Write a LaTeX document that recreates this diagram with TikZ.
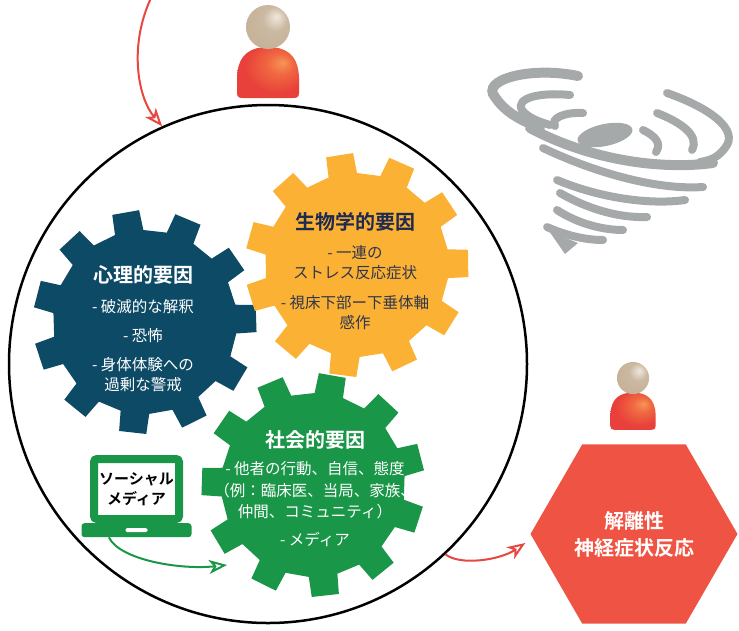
\documentclass[tikz,border=0pt]{standalone}
\usepackage{fontspec}
\setmainfont{Noto Sans CJK JP}[BoldFont={Noto Sans CJK JP Bold}]
\usetikzlibrary{arrows.meta,calc,positioning,shapes.geometric}
\definecolor{dsblue}{RGB}{13,74,102}
\definecolor{dsorange}{RGB}{251,177,52}
\definecolor{dsgreen}{RGB}{26,150,72}
\definecolor{dsred}{RGB}{239,83,67}
\definecolor{dsarrow}{RGB}{232,71,63}
\definecolor{dsnavy}{RGB}{30,42,80}
\definecolor{dsslate}{RGB}{48,54,76}
\definecolor{dsgray}{RGB}{166,169,170}
\definecolor{headlight}{RGB}{240,232,222}
\definecolor{headtan}{RGB}{196,176,150}
\definecolor{headdark}{RGB}{150,126,100}
\definecolor{bodylight}{RGB}{246,150,85}
\definecolor{bodymid}{RGB}{240,105,65}
\definecolor{bodyred}{RGB}{232,64,58}
\pgfdeclareradialshading{bodyglow}{\pgfpoint{12bp}{10bp}}{color(0bp)=(bodylight); color(10bp)=(bodymid); color(26bp)=(bodyred); color(60bp)=(bodyred)}
\pgfdeclareradialshading{headglow}{\pgfpoint{10bp}{12bp}}{color(0bp)=(headlight); color(14bp)=(headtan!85!headlight); color(36bp)=(headtan); color(60bp)=(headdark)}
\tikzset{
  dstitle/.style={inner sep=0pt, align=center, font=\fontsize{20}{24}\selectfont\bfseries},
  dsbody/.style={inner sep=0pt, align=center, font=\fontsize{15.5}{19.5}\selectfont},
  dshex/.style={regular polygon, regular polygon sides=6, minimum size=207pt, inner sep=0pt, fill=dsred, text=white, align=center, font=\fontsize{20}{27}\selectfont\bfseries},
  dsscreen/.style={draw=dsgreen, line width=8pt, rounded corners=3pt, fill=white, minimum width=85pt, minimum height=60pt, inner sep=0pt, align=center, font=\fontsize{15}{20}\selectfont\bfseries},
  dsbase/.style={fill=dsgreen, rounded corners=3pt, minimum width=110pt, minimum height=14pt, inner sep=0pt},
  dsarrred/.style={-{Stealth[open, length=18pt, width=14pt, inset=5pt]}, line width=2pt, draw=dsarrow},
  dsarrgreen/.style={-{Stealth[open, length=18pt, width=14pt, inset=5pt]}, line width=2pt, draw=dsgreen},
  twister/.style={draw=dsgray, line width=8pt, line cap=round}
}
% cog wheel with 11 teeth: centre, angle of first tooth, colour
\newcommand{\cog}[3]{%
  \fill[#3, shift={#1}] ({#2-9}:92)
    \foreach \k in {0,...,10} {
      -- ({#2+32.727*\k-9}:92) -- ({#2+32.727*\k-7}:112)
      -- ({#2+32.727*\k+7}:112) -- ({#2+32.727*\k+9}:92)
    } -- cycle;}
% person icon: head centre, scale
\newcommand{\personicon}[2]{%
  \begin{scope}[shift={#1}, scale=#2]
    \shade[shading=bodyglow] (-31,66) -- (-31,50) .. controls (-30,26) and (-16,20) .. (0,20)
      .. controls (16,20) and (30,26) .. (31,50) -- (31,66) .. controls (31,70) and (29,71) .. (25,71)
      -- (-25,71) .. controls (-29,71) and (-31,70) .. (-31,66) -- cycle;
    \shade[shading=headglow] (0,0) circle[radius=22];
  \end{scope}}

\begin{document}
\begin{tikzpicture}[x=1pt, y=-1pt]
  \useasboundingbox (0,0) rectangle (739,630);

  \node[draw, line width=2.5pt, circle, minimum size=518pt, inner sep=0pt] (world) at (268,364) {};

  % the three factors
  \cog{(145,322)}{-100}{dsblue}
  \cog{(357,265)}{-99}{dsorange}
  \cog{(313,485)}{-80}{dsgreen}

  \node[dstitle, text=white] (psytitle) at (143,275) {心理的要因};
  \node[dsbody, text=white, below=15pt of psytitle] (psybody)
    {- 破滅的な解釈\\[9.5pt] - 恐怖\\[9.5pt] - 身体体験への\\過剰な警戒};

  \node[dstitle, text=dsnavy] (biotitle) at (355,222) {生物学的要因};
  \node[dsbody, text=dsslate, below=14pt of biotitle] (biobody)
    {- 一連の\\ストレス反応症状\\[11pt] - 視床下部ー下垂体軸\\感作};

  \node[dstitle, text=white] (soctitle) at (315,440) {社会的要因};
  \node[dsbody, text=white, below=12pt of soctitle] (socbody)
    {- 他者の行動、自信、態度\\[2pt]（例：臨床医、当局、家族、\\[2pt]仲間、コミュニティ）\\[8pt] - メディア};

  % laptop
  \node[dsscreen] (laptop) at (136.5,489) {ソーシャル\\メディア};
  \node[dsbase, below=0pt of laptop] (base) {};
  \node[fill=white, rounded corners=1.5pt, minimum width=22pt, minimum height=4pt, inner sep=0pt] (slot) at (base) {};

  % outcome
  \node[dshex] (dissoc) at (634,534) {解離性\\神経症状反応};

  \personicon{(268,27)}{1}
  \personicon{(633,378)}{0.73}

  % tornado
  \fill[dsgray, rotate around={12:(605,135)}] (605,135) ellipse[x radius=28, y radius=11];
  \draw[twister, line width=10pt] (578,76) .. controls (530,66) and (480,80) .. (495,97) .. controls (505,112) and (520,120) .. (540,128);
  \draw[twister] (570,95) .. controls (540,92) and (515,98) .. (522,110) .. controls (528,118) and (540,122) .. (550,125);
  \draw[twister] (583,113) .. controls (565,112) and (550,118) .. (555,126);
  \draw[twister] (667,93) .. controls (710,108) and (740,130) .. (725,148) .. controls (718,157) and (712,160) .. (700,162);
  \draw[twister] (657,113) .. controls (680,122) and (700,135) .. (692,150);
  \draw[twister] (643,130) .. controls (655,136) and (662,143) .. (656,152);
  \draw[twister, line width=10pt] (530,128) .. controls (590,160) and (660,170) .. (713,163);
  \draw[twister] (543,148) .. controls (600,175) and (660,190) .. (703,187);
  \draw[twister] (557,180) .. controls (600,198) and (650,205) .. (685,200);
  \draw[twister] (560,193) .. controls (590,210) and (620,218) .. (647,217);
  \draw[twister] (557,210) .. controls (575,222) and (600,230) .. (623,230);
  \draw[twister] (547,227) .. controls (565,235) and (585,240) .. (603,240);
  \fill[dsgray] (549,231) -- (578,243) -- (565,254) -- cycle;

  % connectors
  \coordinate (stressor) at (152,-4);
  \coordinate (socin) at (227,565);
  \coordinate (hexin) at ($(dissoc.west)+(-5,9)$);
  \draw[dsarrred] (stressor) .. controls (128,45) and (138,98) .. (world.114);
  \draw[dsarrgreen] ($(base.south west)!0.25!(base.south east)$) .. controls (120,560) and (180,570) .. (socin);
  \draw[dsarrred] (world.-47.7) .. controls (460,566) and (500,560) .. (hexin);
\end{tikzpicture}
\end{document}
